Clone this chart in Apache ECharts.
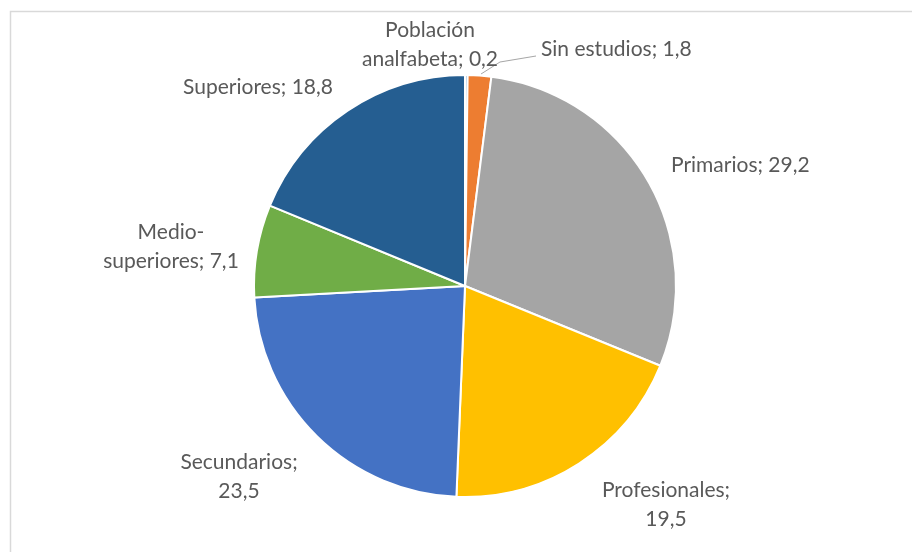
<!DOCTYPE html>
<html>
<head>
<meta charset="utf-8">
<script src="https://cdn.jsdelivr.net/npm/echarts@6/dist/echarts.min.js"></script>
<style>
  html, body { margin: 0; padding: 0; background: #fff; }
  #chart { width: 912px; height: 552px; }
</style>
</head>
<body>
<div id="chart"></div>
<script>
// datos del gráfico
const categorias = ['Población\nanalfabeta', 'Sin estudios', 'Primarios', 'Profesionales', 'Secundarios', 'Medio-\nsuperiores', 'Superiores']
const valores = [0.2, 1.8, 29.2, 19.5, 23.5, 7.1, 18.8]
const separadores = ['; ', '; ', '; ', ';\n', ';\n', '; ', '; ']
const colores = ['#5B9BD5', '#ED7D31', '#A5A5A5', '#FFC000', '#4472C4', '#70AD47', '#255E91']

// posición de cada etiqueta (centro del bloque de texto)
const etiquetas = [
  { x: 430, y: 45, align: 'center' },
  { x: 541, y: 49, align: 'left' },
  { x: 671, y: 165, align: 'left' },
  { x: 666, y: 505, align: 'center' },
  { x: 239, y: 477, align: 'center' },
  { x: 171, y: 247, align: 'center' },
  { x: 258, y: 87, align: 'center' }
]

const chart = echarts.init(document.getElementById('chart'))

const option = {
  animation: false,
  backgroundColor: '#fff',
  graphic: [{
    type: 'rect',
    shape: { x: 10.5, y: 11.5, width: 950, height: 600 },
    style: { fill: 'none', stroke: '#d9d9d9', lineWidth: 1.5 },
    silent: true
  }],
  series: [{
    type: 'pie',
    center: [465, 286],
    radius: [0, 211],
    startAngle: 90,
    clockwise: true,
    avoidLabelOverlap: false,
    emphasis: { scale: false },
    itemStyle: { borderColor: '#fff', borderWidth: 2 },
    label: {
      show: true,
      position: 'outside',
      color: '#595959',
      fontFamily: 'Lato',
      fontSize: 21,
      lineHeight: 29,
      formatter: p => p.name + separadores[p.dataIndex] + String(p.value).replace('.', ',')
    },
    labelLine: { show: false },
    labelLayout: p => {
      const e = etiquetas[p.dataIndex]
      const out = { x: e.x, y: e.y, align: e.align, verticalAlign: 'middle' }
      if (p.dataIndex === 1) out.labelLinePoints = [[481, 74], [500, 62], [536, 56]]
      return out
    },
    data: categorias.map((c, i) => {
      const d = { name: c, value: valores[i], itemStyle: { color: colores[i] } }
      if (i === 1) d.labelLine = { show: true, lineStyle: { color: '#a6a6a6', width: 1 } }
      return d
    })
  }]
}

chart.setOption(option)
</script>
</body>
</html>
